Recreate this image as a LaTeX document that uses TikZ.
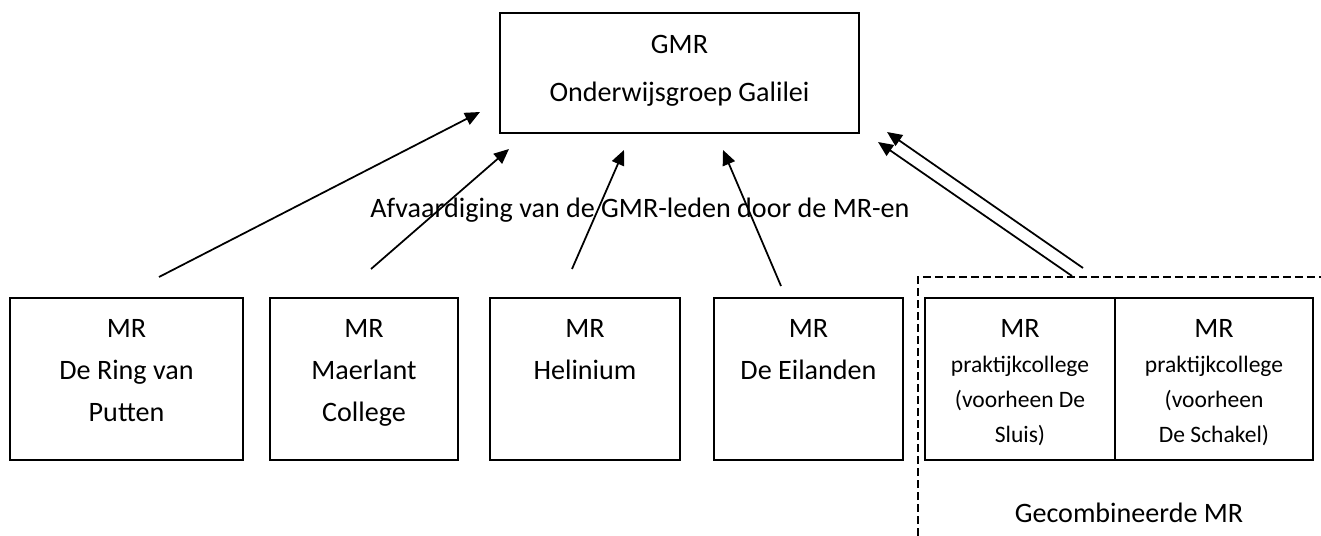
\documentclass[tikz,border=0pt]{standalone}
\usepackage{fontspec}
\setmainfont{Carlito}
\usetikzlibrary{arrows.meta,positioning,calc}

\begin{document}
\begin{tikzpicture}[x=0.02cm,y=-0.02cm,
    box/.style={draw, line width=1.1pt, inner sep=0pt, minimum height=3.24cm},
    boxtext/.style={anchor=north, align=center, inner sep=0pt, font=\fontsize{16}{24}\selectfont},
    smalltext/.style={anchor=north, align=center, inner sep=0pt, font=\fontsize{13.4}{20}\selectfont},
    pijl/.style={line width=1pt, -{Triangle[length=0.3cm,width=0.26cm]}},
    grens/.style={line width=1pt, dash pattern=on 0.16cm off 0.08cm}]
    \useasboundingbox (0,0) rectangle (1321,536);

    % GMR
    \node [box, minimum width=7.18cm, minimum height=2.4cm] (gmr) at (679.5,73) {};
    \node [boxtext] (gmrtxt) at (679.5,35) {GMR\\[3pt]Onderwijsgroep Galilei};

    % MR's
    \node [box, minimum width=4.66cm] (ring) at (126.5,379) {};
    \node [box, minimum width=3.76cm] (maerlant) at (364,379) {};
    \node [box, minimum width=3.80cm] (helinium) at (585,379) {};
    \node [box, minimum width=3.78cm] (eilanden) at (808.5,379) {};
    \node [box, minimum width=3.80cm] (sluis) at (1020,379) {};
    \node [box, minimum width=3.96cm] (schakel) at (1214,379) {};

    \node [boxtext] (ringtxt) at (126.5,319) {MR\\De Ring van\\Putten};
    \node [boxtext] (maerlanttxt) at (364,319) {MR\\Maerlant\\College};
    \node [boxtext] (heliniumtxt) at (585,319) {MR\\Helinium};
    \node [boxtext] (eilandentxt) at (808.5,319) {MR\\De Eilanden};
    \node [smalltext] (sluistxt) at (1020,319) {{\fontsize{16}{24}\selectfont MR}\\praktijkcollege\\(voorheen De\\Sluis)};
    \node [smalltext] (schakeltxt) at (1214,319) {{\fontsize{16}{24}\selectfont MR}\\praktijkcollege\\(voorheen\\De Schakel)};

    \node [boxtext, anchor=base west] (afvaardiging) at (370,218) {Afvaardiging van de GMR-leden door de MR-en};
    \node [boxtext, anchor=base] (gecombineerd) at (1129,522) {Gecombineerde MR};

    \draw [grens] (918,536) -- (918,277) -- (1321,277);

    % afvaardiging
    \coordinate (v1) at (159,277);  \coordinate (n1) at (480,112);
    \coordinate (v2) at (371,269);  \coordinate (n2) at (509,149);
    \coordinate (v3) at (572,269);  \coordinate (n3) at (624,150);
    \coordinate (v4) at (781,286);  \coordinate (n4) at (723,150);
    \coordinate (v5) at (1072,276); \coordinate (n5) at (878,142);
    \coordinate (v6) at (1083,268); \coordinate (n6) at (887,132);
    \foreach \i in {1,...,6}
        \draw [pijl] (v\i) -- (n\i);
\end{tikzpicture}
\end{document}
